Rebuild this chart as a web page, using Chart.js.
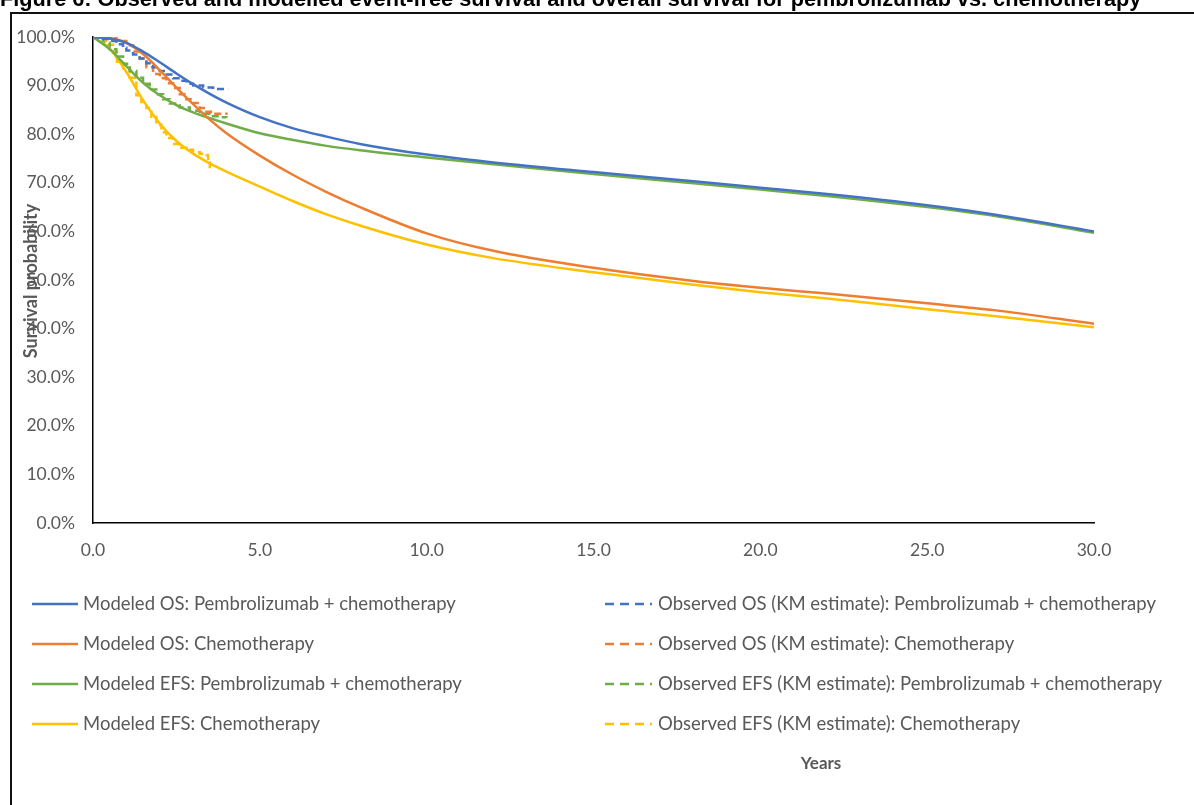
<!DOCTYPE html>
<html>
<head>
<meta charset="utf-8">
<style>
  html, body { margin: 0; padding: 0; background: #fff; }
  #wrap { position: relative; width: 1194px; height: 805px; overflow: hidden; }
  canvas { display: block; }
</style>
<script src="https://cdn.jsdelivr.net/npm/chart.js@4.4.1/dist/chart.umd.min.js"></script>
</head>
<body>
<div id="wrap"><canvas id="c" width="1194" height="805"></canvas></div>
<script>
// Modeled survival (extrapolated curves), years and survival probability (%)
const modelYears      = [0, 0.5, 1, 1.5, 2, 2.5, 3, 3.5, 4, 5, 6, 7, 8, 10, 12, 15, 18, 20, 22, 25, 27, 30];
const osPembroModel   = [100, 99.7, 98.8, 97.0, 94.8, 92.5, 90.3, 88.3, 86.5, 83.5, 81.2, 79.5, 78.0, 75.8, 74.2, 72.2, 70.3, 69.0, 67.7, 65.4, 63.5, 60.0];
const osChemoModel    = [100, 99.8, 98.8, 96.5, 93.2, 89.6, 86.2, 83.0, 80.2, 75.6, 71.6, 68.1, 65.0, 59.6, 56.0, 52.5, 49.8, 48.4, 47.2, 45.2, 43.8, 41.0];
const efsPembroModel  = [100, 97.5, 94.0, 90.6, 88.0, 86.0, 84.5, 83.3, 82.2, 80.2, 78.8, 77.6, 76.7, 75.2, 73.8, 71.8, 69.9, 68.6, 67.3, 65.0, 63.2, 59.7];
const efsChemoModel   = [100, 97.6, 92.8, 87.0, 82.2, 78.6, 76.0, 74.0, 72.3, 69.2, 66.2, 63.5, 61.2, 57.3, 54.5, 51.6, 49.0, 47.5, 46.2, 44.0, 42.6, 40.3];

// Observed Kaplan-Meier estimates
const kmOsPembroYears  = [0, 0.3, 0.5, 0.7, 0.9, 1.0, 1.2, 1.4, 1.6, 1.8, 2.0, 2.2, 2.4, 2.6, 2.8, 3.0, 3.3, 3.6, 4.05];
const kmOsPembro       = [100, 99.6, 99.2, 98.5, 97.8, 97.2, 96.4, 95.6, 94.6, 93.8, 93.0, 92.3, 91.5, 91.0, 90.4, 90.0, 89.6, 89.3, 89.3];
const kmOsChemoYears   = [0, 0.4, 0.7, 1.0, 1.2, 1.4, 1.6, 1.8, 2.0, 2.2, 2.4, 2.6, 2.8, 3.0, 3.2, 3.4, 3.6, 4.0];
const kmOsChemo        = [100, 99.8, 99.2, 98.3, 97.0, 95.6, 93.8, 92.4, 91.5, 90.5, 89.5, 88.2, 87.2, 86.4, 85.4, 84.6, 84.2, 84.0];
const kmEfsPembroYears = [0, 0.3, 0.5, 0.7, 0.9, 1.1, 1.3, 1.5, 1.7, 1.9, 2.1, 2.3, 2.6, 2.9, 3.2, 3.5, 3.8, 4.0];
const kmEfsPembro      = [100, 98.8, 97.5, 96.0, 94.5, 93.0, 91.6, 90.4, 89.2, 88.2, 87.2, 86.3, 85.5, 84.8, 84.2, 83.7, 83.5, 83.4];
const kmEfsChemoYears  = [0, 0.3, 0.45, 0.6, 0.72, 0.9, 1.1, 1.3, 1.45, 1.6, 1.75, 1.9, 2.05, 2.2, 2.4, 2.6, 2.8, 3.0, 3.2, 3.4, 3.45, 3.5];
const kmEfsChemo       = [100, 99.2, 98.4, 96.9, 94.9, 93.6, 91.6, 88.0, 86.6, 85.4, 83.6, 81.9, 80.4, 79.2, 78.0, 77.2, 76.8, 76.3, 76.0, 75.7, 74.2, 73.0];

// Series labels and colours
const modelLabels = [
  'Modeled OS: Pembrolizumab + chemotherapy',
  'Modeled OS: Chemotherapy',
  'Modeled EFS: Pembrolizumab + chemotherapy',
  'Modeled EFS: Chemotherapy'
];
const observedLabels = [
  'Observed OS (KM estimate): Pembrolizumab + chemotherapy',
  'Observed OS (KM estimate): Chemotherapy',
  'Observed EFS (KM estimate): Pembrolizumab + chemotherapy',
  'Observed EFS (KM estimate): Chemotherapy'
];
const seriesColors = ['#4472C4', '#ED7D31', '#70AD47', '#FFC000'];

const yTicks = [0, 10, 20, 30, 40, 50, 60, 70, 80, 90, 100];
const xTicks = [0, 5, 10, 15, 20, 25, 30];

const titleText = 'Figure 6: Observed and modelled event-free survival and overall survival for pembrolizumab vs. chemotherapy';
const yTitle = 'Survival probability';
const xTitle = 'Years';

const TEXT_GRAY = '#595959';
const FONT = 'Lato, "Open Sans", sans-serif';

function pairs(xs, ys) { return xs.map((x, i) => ({ x: x, y: ys[i] })); }

const modelSeries = [osPembroModel, osChemoModel, efsPembroModel, efsChemoModel];
const kmSeries = [
  [kmOsPembroYears, kmOsPembro],
  [kmOsChemoYears, kmOsChemo],
  [kmEfsPembroYears, kmEfsPembro],
  [kmEfsChemoYears, kmEfsChemo]
];

const datasets = [];
modelSeries.forEach((vals, i) => {
  datasets.push({
    label: modelLabels[i],
    data: pairs(modelYears, vals),
    borderColor: seriesColors[i],
    borderWidth: 2.5,
    pointRadius: 0,
    cubicInterpolationMode: 'monotone',
    fill: false
  });
});
kmSeries.forEach((s, i) => {
  datasets.push({
    label: observedLabels[i],
    data: pairs(s[0], s[1]),
    borderColor: seriesColors[i],
    borderWidth: 2.5,
    borderDash: [7, 4],
    pointRadius: 0,
    stepped: true,
    fill: false
  });
});

// Frame, title, axis titles and two-column legend drawn around the plot
const decorations = {
  id: 'decorations',
  beforeDraw(chart) {
    const ctx = chart.ctx;
    ctx.save();
    ctx.fillStyle = '#fff';
    ctx.fillRect(0, 0, chart.width, chart.height);
    ctx.strokeStyle = '#111';
    ctx.lineWidth = 2;
    ctx.beginPath();
    ctx.moveTo(11, chart.height);
    ctx.lineTo(11, 13);
    ctx.lineTo(chart.width, 13);
    ctx.stroke();
    ctx.restore();
  },
  afterDraw(chart) {
    const ctx = chart.ctx;
    ctx.save();
    // figure title, sitting partly above the top edge
    ctx.fillStyle = '#000';
    ctx.font = 'bold 21.7px "Liberation Sans", Arial, sans-serif';
    ctx.textBaseline = 'alphabetic';
    ctx.textAlign = 'left';
    ctx.fillText(titleText, 0, 6);

    // y axis title
    ctx.fillStyle = TEXT_GRAY;
    ctx.font = 'bold 18px ' + FONT;
    ctx.save();
    ctx.translate(31, 281);
    ctx.rotate(-Math.PI / 2);
    ctx.textAlign = 'center';
    ctx.textBaseline = 'middle';
    ctx.fillText(yTitle, 0, 0);
    ctx.restore();

    // x axis title
    ctx.font = 'bold 17px ' + FONT;
    ctx.textAlign = 'center';
    ctx.textBaseline = 'middle';
    ctx.fillText(xTitle, 821, 764);

    // legend
    ctx.font = '18.5px ' + FONT;
    ctx.textAlign = 'left';
    ctx.textBaseline = 'middle';
    const rows = [604, 644, 684, 724];
    for (let i = 0; i < 4; i++) {
      const y = rows[i];
      ctx.strokeStyle = seriesColors[i];
      ctx.lineWidth = 2.5;
      ctx.setLineDash([]);
      ctx.beginPath();
      ctx.moveTo(32, y); ctx.lineTo(78, y);
      ctx.stroke();
      ctx.fillStyle = TEXT_GRAY;
      ctx.fillText(modelLabels[i], 83, y);

      ctx.setLineDash([9, 6]);
      ctx.beginPath();
      ctx.moveTo(605, y); ctx.lineTo(652, y);
      ctx.stroke();
      ctx.setLineDash([]);
      ctx.fillText(observedLabels[i], 658, y);
    }
    ctx.restore();
  }
};

new Chart(document.getElementById('c'), {
  type: 'line',
  data: { datasets: datasets },
  options: {
    responsive: false,
    animation: false,
    layout: { padding: { top: 37, right: 100, bottom: 0, left: 0 } },
    plugins: { legend: { display: false }, tooltip: { enabled: false } },
    scales: {
      x: {
        type: 'linear',
        min: 0, max: 30,
        afterFit(scale) { scale.height = 805 - 523; },
        afterBuildTicks(scale) { scale.ticks = xTicks.map(v => ({ value: v })); },
        grid: { drawOnChartArea: false, drawTicks: false },
        border: { color: '#000', width: 1.5 },
        ticks: {
          color: TEXT_GRAY,
          font: { family: FONT, size: 17.5 },
          padding: 17,
          maxRotation: 0,
          callback: v => Number(v).toFixed(1)
        }
      },
      y: {
        type: 'linear',
        min: 0, max: 100,
        afterFit(scale) { scale.width = 93; },
        afterBuildTicks(scale) { scale.ticks = yTicks.map(v => ({ value: v })); },
        grid: { drawOnChartArea: false, drawTicks: false },
        border: { color: '#000', width: 1.5 },
        ticks: {
          color: TEXT_GRAY,
          font: { family: FONT, size: 17.5 },
          padding: 18,
          callback: v => Number(v).toFixed(1) + '%'
        }
      }
    }
  },
  plugins: [decorations]
});
</script>
</body>
</html>
